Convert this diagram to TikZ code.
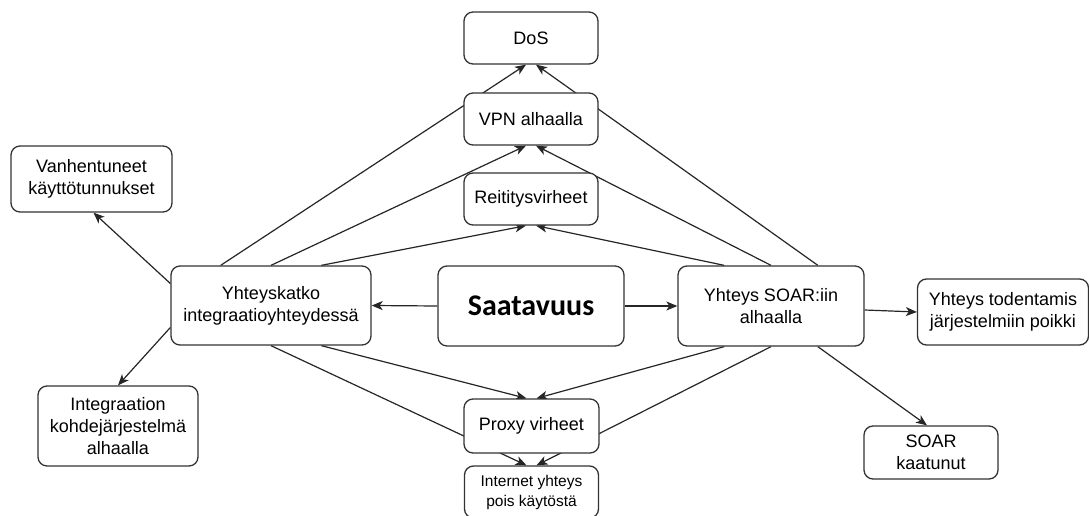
\documentclass[tikz,border=0pt]{standalone}
\usepackage{fontspec}
\setmainfont{Liberation Sans}
\newfontfamily\titlefont{Carlito}
\usetikzlibrary{arrows.meta,calc}
\pgfdeclarelayer{edges}
\pgfsetlayers{edges,main}
\tikzset{
  box/.style={draw=black!80, line width=1.3pt, rounded corners=9pt, fill=white,
    align=center, inner sep=0pt, text=black,
    font=\fontsize{18}{22}\selectfont},
  arr/.style={draw=black!85, line width=1.2pt,
    -{Stealth[length=11pt,width=9pt,inset=3pt]}}
}
\begin{document}
\begin{tikzpicture}[x=1pt,y=-1pt]
\clip (0,0) rectangle (1089,516);

% boxes
\node[box, minimum width=134, minimum height=52] (dos) at (531,38) {DoS};
\node[box, minimum width=134, minimum height=52] (vpn) at (531,119) {VPN alhaalla};
\node[box, minimum width=134, minimum height=52] (reit) at (531,199) {Reititysvirheet};
\node[box, minimum width=200, minimum height=79] (yk) at (271,305.5) {Yhteyskatko\\integraatioyhteydessä};
\node[box, minimum width=186, minimum height=80, font=\titlefont\bfseries\fontsize{30}{34}\selectfont] (saat) at (531,306) {Saatavuus};
\node[box, minimum width=186, minimum height=80] (soar) at (771,306) {Yhteys SOAR:iin\\alhaalla};
\node[box, minimum width=171, minimum height=66] (tod) at (1003,312) {Yhteys todentamis\\järjestelmiin poikki};
\node[box, minimum width=134, minimum height=53] (kaat) at (931,452.5) {SOAR\\kaatunut};
\node[box, minimum width=135, minimum height=54] (proxy) at (531.5,426) {Proxy virheet};
\node[box, minimum width=134, minimum height=52, font=\fontsize{15.5}{20}\selectfont] (inet) at (531.5,492) {Internet yhteys\\pois käytöstä};
\node[box, minimum width=161, minimum height=66] (vanh) at (91.5,179) {Vanhentuneet\\käyttötunnukset};
\node[box, minimum width=160, minimum height=80] (integ) at (118,426) {Integraation\\kohdejärjestelmä\\alhaalla};

% connectors, kept beneath the boxes
\begin{pgfonlayer}{edges}
\fill[white] (0,0) rectangle (1089,516);
\draw[arr] ($(yk.north west)!.25!(yk.north east)$) -- ($(dos.south)+(-5,0)$);
\draw[arr] ($(yk.north west)!.5!(yk.north east)$) -- ($(vpn.south)+(-5,0)$);
\draw[arr] ($(yk.north west)!.75!(yk.north east)$) -- ($(reit.south)+(-5,0)$);
\draw[arr] ($(soar.north west)!.25!(soar.north east)$) -- ($(reit.south)+(5,0)$);
\draw[arr] ($(soar.north west)!.5!(soar.north east)$) -- ($(vpn.south)+(5,0)$);
\draw[arr] ($(soar.north west)!.75!(soar.north east)$) -- ($(dos.south)+(5,0)$);
\draw[arr] ($(yk.south west)!.75!(yk.south east)$) -- ($(proxy.north)+(-5,0)$);
\draw[arr] ($(yk.south west)!.5!(yk.south east)$) -- ($(inet.north)+(-5,0)$);
\draw[arr] ($(soar.south west)!.25!(soar.south east)$) -- ($(proxy.north)+(5,0)$);
\draw[arr] ($(soar.south west)!.5!(soar.south east)$) -- ($(inet.north)+(5,0)$);
\draw[arr] ($(soar.south west)!.75!(soar.south east)$) -- ($(kaat.north)+(-4,0)$);
\draw[arr] ($(yk.west)+(0,-22)$) -- ($(vanh.south)+(2,0)$);
\draw[arr] ($(yk.west)+(0,22)$) -- (integ.north);
\draw[arr] (saat.west) -- (yk.east);
\draw[arr] (saat.east) -- (soar.west);
\draw[arr] ($(soar.east)+(0,4)$) -- (tod.west);
\end{pgfonlayer}
\end{tikzpicture}
\end{document}
